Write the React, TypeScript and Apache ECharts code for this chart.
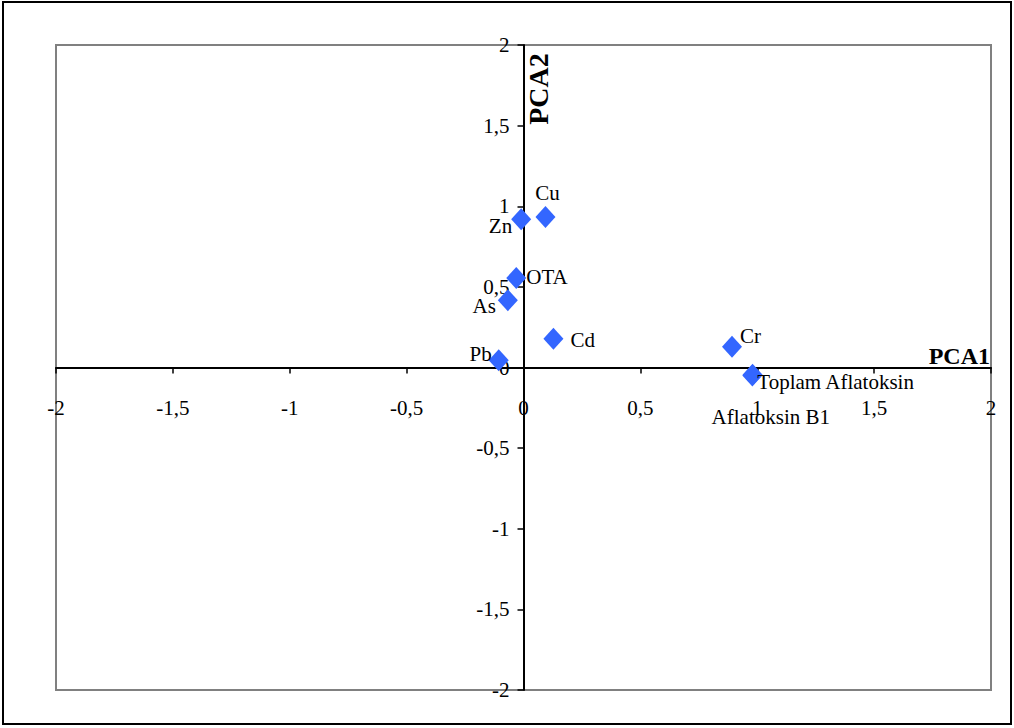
import React, { useEffect, useRef } from "react";
import * as echarts from "echarts";

const names = ["Cu", "Zn", "OTA", "As", "Cd", "Pb", "Cr", "Toplam Aflatoksin", "Aflatoksin B1"];
const pca1 = [0.094, -0.01, -0.031, -0.067, 0.128, -0.106, 0.892, 0.979, 0.98];
const pca2 = [0.933, 0.92, 0.555, 0.417, 0.179, 0.045, 0.128, -0.05, -0.045];
const axisMin = -2;
const axisMax = 2;
const axisStep = 0.5;

// label placement (pixels relative to the marker centre)
const labelPlacement: Record<string, { offset: [number, number]; align: string }> = {
  Cu: { offset: [2, -24], align: "center" },
  Zn: { offset: [-9, 7], align: "right" },
  OTA: { offset: [10, -1], align: "left" },
  As: { offset: [-12, 6], align: "right" },
  Cd: { offset: [17, 1], align: "left" },
  Pb: { offset: [-7, -6], align: "right" },
  Cr: { offset: [8, -11], align: "left" },
  "Toplam Aflatoksin": { offset: [5, 6], align: "left" },
  "Aflatoksin B1": { offset: [-41, 42], align: "left" },
};

const FONT = "'Liberation Serif', 'Times New Roman', serif";
const fmt = (v: number) => String(v).replace(".", ",");

const GRID = { left: 56, right: 23, top: 45, bottom: 38 };

export default function App() {
  const ref = useRef<HTMLDivElement>(null);
  useEffect(() => {
    if (!ref.current) return;
    const chart = echarts.init(ref.current, null, { renderer: "svg" });
    const data = names.map((n, i) => {
      const p = labelPlacement[n];
      return {
        name: n,
        value: [pca1[i], pca2[i]],
        label: {
          show: true,
          position: "inside",
          offset: p.offset,
          align: p.align,
          verticalAlign: "middle",
          formatter: n,
          color: "#000",
          fontSize: 21,
          fontFamily: FONT,
        },
      };
    });
    const axisCommon = {
      type: "value",
      min: axisMin,
      max: axisMax,
      interval: axisStep,
      splitLine: { show: false },
      axisTick: { show: true, length: 6, lineStyle: { color: "#000", width: 1.5 } },
    };
    chart.setOption({
      animation: false,
      backgroundColor: "#fff",
      grid: {
        ...GRID,
        containLabel: false,
        outerBoundsMode: "none",
        show: true,
        borderColor: "#808080",
        borderWidth: 2,
        backgroundColor: "#fff",
      },
      xAxis: {
        ...axisCommon,
        position: "bottom",
        axisLine: { onZero: false, lineStyle: { color: "#000", width: 2 } },
        axisLabel: {
          margin: 30,
          color: "#000",
          fontSize: 21,
          fontFamily: FONT,
          formatter: fmt,
          showMinLabel: true,
          showMaxLabel: true,
        },
      },
      yAxis: {
        ...axisCommon,
        position: "left",
        axisLine: { onZero: false, lineStyle: { color: "#000", width: 2 } },
        axisLabel: {
          margin: 14,
          color: "#000",
          fontSize: 21,
          fontFamily: FONT,
          formatter: fmt,
          showMinLabel: true,
          showMaxLabel: true,
        },
      },
      series: [
        {
          type: "scatter",
          symbol: "diamond",
          symbolSize: [20, 22],
          itemStyle: { color: "#3366ff", opacity: 1 },
          data,
        },
      ],
      graphic: [
        {
          type: "rect",
          shape: { x: 3, y: 2, width: 1008, height: 722 },
          style: { fill: "none", stroke: "#000", lineWidth: 2 },
          silent: true,
          z: 100,
        },
        {
          type: "text",
          x: 990,
          y: 356,
          style: {
            text: "PCA1",
            fill: "#000",
            font: "bold 24px 'Liberation Serif', 'Times New Roman', serif",
            align: "right",
            verticalAlign: "middle",
          },
          z: 100,
        },
        {
          type: "text",
          x: 538,
          y: 89,
          rotation: Math.PI / 2,
          style: {
            text: "PCA2",
            fill: "#000",
            font: "bold 28px 'Liberation Serif', 'Times New Roman', serif",
            align: "center",
            verticalAlign: "middle",
          },
          z: 100,
        },
      ],
    });
    // move both axes onto the origin using the library's own scale
    const origin = chart.convertToPixel({ gridIndex: 0 }, [0, 0]) as number[];
    const height = chart.getHeight();
    const gridBottomY = height - GRID.bottom;
    chart.setOption({
      xAxis: { offset: -(gridBottomY - origin[1]) },
      yAxis: { offset: -(origin[0] - GRID.left) },
    });
    return () => chart.dispose();
  }, []);
  return (
    <div
      ref={ref}
      style={{ position: "fixed", left: 0, top: 0, width: 1014, height: 728, background: "#fff" }}
    />
  );
}
